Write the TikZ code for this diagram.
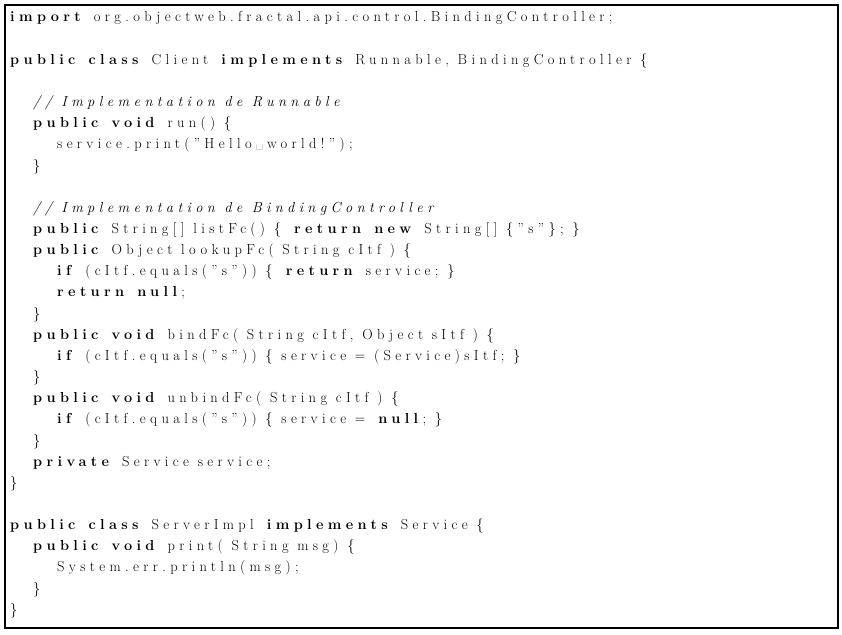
\documentclass[tikz,border=0pt]{standalone}
\usepackage{fontspec}
\setmainfont{Latin Modern Roman}[LetterSpace=30]
\newcommand{\kw}[1]{\textbf{#1}}
\newcommand{\cm}[1]{\textit{#1}}
\begin{document}
\begin{tikzpicture}[x=1pt,y=-1pt,
  ln/.style={anchor=base west,inner sep=0pt,font=\fontsize{14.5}{16}\selectfont}]
\useasboundingbox (0,0) rectangle (842,634);
\draw[line width=1.6pt] (5,5) rectangle (838,628);
\def\L#1#2#3{\node[ln] (l#1) at (#2,{22+(#1-1)*21.15}) {#3};}
\L{1}{10}{\kw{import} org.objectweb.fractal.api.control.BindingController;}
\L{3}{10}{\kw{public} \kw{class} Client \kw{implements} Runnable, BindingController \{}
\L{5}{33}{\cm{// Implementation de Runnable}}
\L{6}{33}{\kw{public} \kw{void} run() \{}
\L{7}{57}{service.print("Hello\textvisiblespace world!");}
\L{8}{33}{\}}
\L{10}{33}{\cm{// Implementation de BindingController}}
\L{11}{33}{\kw{public} String[] listFc() \{ \kw{return} \kw{new} String[] \{"s"\}; \}}
\L{12}{33}{\kw{public} Object lookupFc( String cItf ) \{}
\L{13}{57}{\kw{if} (cItf.equals("s")) \{ \kw{return} service; \}}
\L{14}{57}{\kw{return} \kw{null};}
\L{15}{33}{\}}
\L{16}{33}{\kw{public} \kw{void} bindFc( String cItf, Object sItf ) \{}
\L{17}{57}{\kw{if} (cItf.equals("s")) \{ service = (Service)sItf; \}}
\L{18}{33}{\}}
\L{19}{33}{\kw{public} \kw{void} unbindFc( String cItf ) \{}
\L{20}{57}{\kw{if} (cItf.equals("s")) \{ service = \kw{null}; \}}
\L{21}{33}{\}}
\L{22}{33}{\kw{private} Service service;}
\L{23}{10}{\}}
\L{25}{10}{\kw{public} \kw{class} ServerImpl \kw{implements} Service \{}
\L{26}{33}{\kw{public} \kw{void} print( String msg) \{}
\L{27}{57}{System.err.println(msg);}
\L{28}{33}{\}}
\L{29}{10}{\}}
\end{tikzpicture}
\end{document}
